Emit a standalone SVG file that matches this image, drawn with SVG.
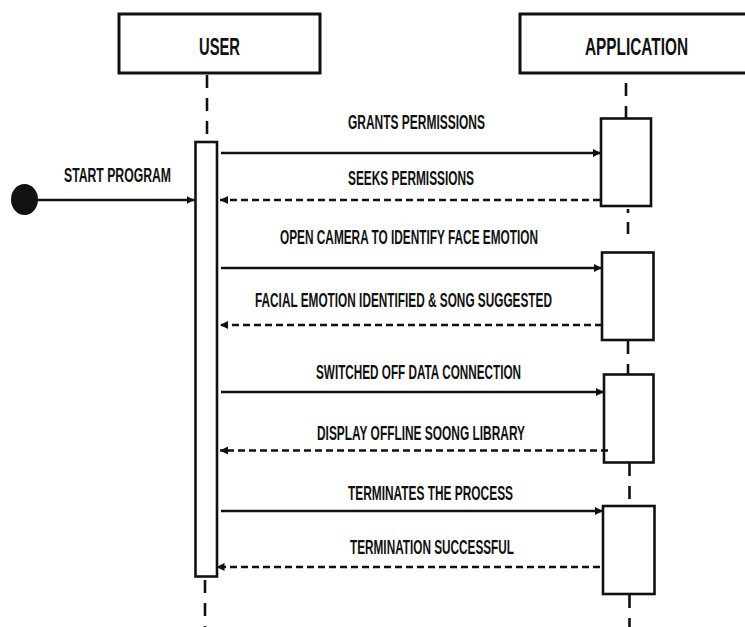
<svg xmlns="http://www.w3.org/2000/svg" width="745" height="627" viewBox="0 0 745 627">
<defs>
<style>
.box{fill:#fff;stroke:#111;stroke-width:3}
.act{fill:#fff;stroke:#111;stroke-width:2.6}
.life{fill:none;stroke:#111;stroke-width:2.6;stroke-dasharray:13 10}
.msg{fill:none;stroke:#111;stroke-width:2.6;marker-end:url(#ah)}
.ret{fill:none;stroke:#111;stroke-width:2.6;stroke-dasharray:7 4;marker-end:url(#ah)}
.hd{font-family:"Liberation Sans",Arial,sans-serif;font-weight:bold;font-size:24px;fill:#111}
.lb{font-family:"Liberation Sans",Arial,sans-serif;font-weight:bold;font-size:19.5px;fill:#111}
</style>
<marker id="ah" markerUnits="userSpaceOnUse" markerWidth="9" markerHeight="9" refX="8" refY="4.5" orient="auto">
<path d="M0,0.5 L8,4.5 L0,8.5 z" fill="#111"/>
</marker>
</defs>
<rect width="745" height="627" fill="#fff"/>

<g id="user">
<rect class="box" x="119" y="14" width="201" height="59"/>
<text class="hd" x="199" y="55" textLength="41" lengthAdjust="spacingAndGlyphs">USER</text>
<line class="life" x1="207" y1="75" x2="207" y2="142"/>
<rect class="act" x="195.5" y="142" width="21.5" height="434.5"/>
<line class="life" x1="205" y1="580" x2="205" y2="627"/>
</g>

<g id="application">
<rect class="box" x="520" y="14" width="240" height="59"/>
<text class="hd" x="585" y="55" textLength="103" lengthAdjust="spacingAndGlyphs">APPLICATION</text>
<line class="life" x1="626" y1="83" x2="626" y2="118"/>
<rect class="act" x="601" y="118.5" width="50" height="87.5"/>
<line class="life" x1="628" y1="209" x2="628" y2="252" style="stroke-dasharray:4 9 12 30"/>
<rect class="act" x="602" y="252.5" width="51.5" height="87.5"/>
<line class="life" x1="628" y1="341" x2="628" y2="374"/>
<rect class="act" x="604" y="374.5" width="49.5" height="88"/>
<line class="life" x1="629.5" y1="463" x2="629.5" y2="506"/>
<rect class="act" x="603" y="506" width="51.5" height="88"/>
<line class="life" x1="629.5" y1="595" x2="629.5" y2="627"/>
</g>

<g id="start">
<ellipse cx="24.5" cy="199.5" rx="13.5" ry="15.5" fill="#111"/>
<text class="lb" x="64" y="181.7" textLength="107" lengthAdjust="spacingAndGlyphs">START PROGRAM</text>
</g>

<g id="connectors">
<line class="msg" x1="37" y1="200" x2="194.5" y2="200"/>
<line class="msg" x1="221" y1="153" x2="601" y2="153"/>
<line class="ret" x1="600" y1="200" x2="220" y2="200"/>
<line class="msg" x1="221" y1="268" x2="602" y2="268"/>
<line class="ret" x1="602" y1="325" x2="220" y2="325"/>
<line class="msg" x1="221" y1="392" x2="604" y2="392"/>
<line class="ret" x1="608" y1="450.5" x2="220" y2="450.5"/>
<line class="msg" x1="221" y1="511" x2="603" y2="511"/>
<line class="ret" x1="600" y1="567" x2="216.5" y2="567"/>
</g>

<g id="labels">
<text class="lb" x="348" y="129.3" textLength="137" lengthAdjust="spacingAndGlyphs">GRANTS PERMISSIONS</text>
<text class="lb" x="348" y="185" textLength="126" lengthAdjust="spacingAndGlyphs">SEEKS PERMISSIONS</text>
<text class="lb" x="280" y="244" textLength="258" lengthAdjust="spacingAndGlyphs">OPEN CAMERA TO IDENTIFY FACE EMOTION</text>
<text class="lb" x="255" y="307" textLength="297" lengthAdjust="spacingAndGlyphs">FACIAL EMOTION IDENTIFIED &amp; SONG SUGGESTED</text>
<text class="lb" x="316" y="378.7" textLength="205" lengthAdjust="spacingAndGlyphs">SWITCHED OFF DATA CONNECTION</text>
<text class="lb" x="317" y="440" textLength="208" lengthAdjust="spacingAndGlyphs">DISPLAY OFFLINE SOONG LIBRARY</text>
<text class="lb" x="348" y="500" textLength="165" lengthAdjust="spacingAndGlyphs">TERMINATES THE PROCESS</text>
<text class="lb" x="350" y="554" textLength="164" lengthAdjust="spacingAndGlyphs">TERMINATION SUCCESSFUL</text>
</g>
</svg>
